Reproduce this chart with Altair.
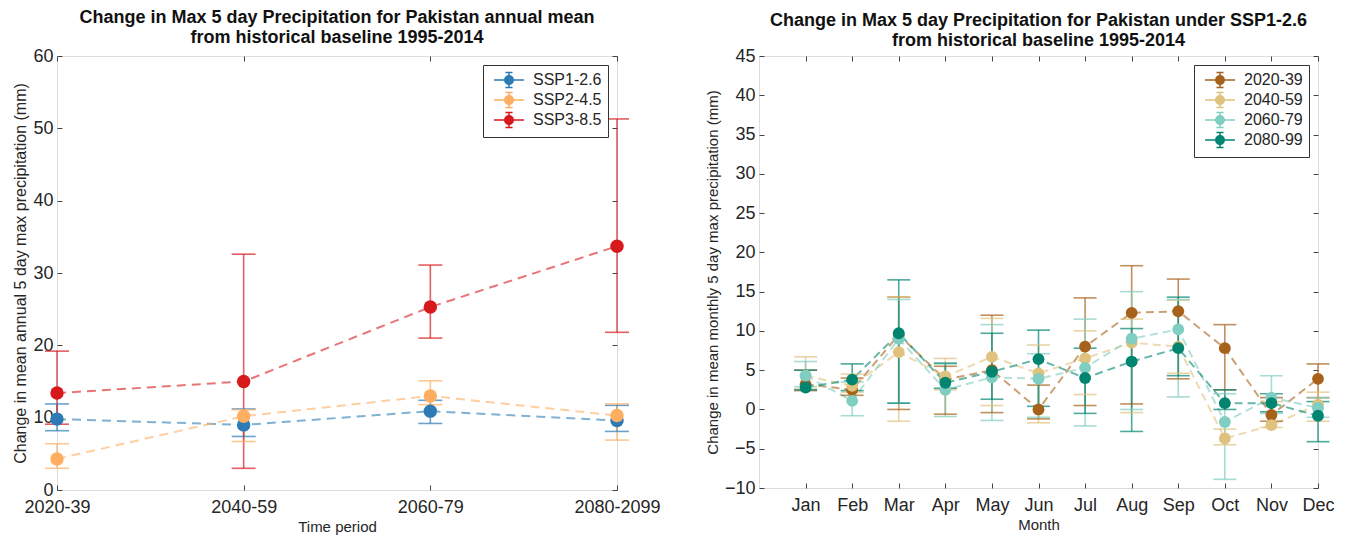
import math
import altair as alt
import pandas as pd

FONT = "Liberation Sans"

# ---------------- Left panel data (annual mean) ----------------
periods = ["2020-39", "2040-59", "2060-79", "2080-2099"]
scenarios = ["SSP1-2.6", "SSP2-4.5", "SSP3-8.5"]
scenario_colors = ["#2c7bb6", "#fdae61", "#d7191c"]

ssp126_mean = [9.8, 9.0, 10.9, 9.6]
ssp126_lo = [8.2, 7.4, 9.2, 8.1]
ssp126_hi = [11.9, 11.2, 12.4, 11.7]

ssp245_mean = [4.3, 10.2, 13.0, 10.3]
ssp245_lo = [3.0, 6.7, 11.8, 6.9]
ssp245_hi = [6.4, 11.1, 15.1, 11.9]

ssp585_mean = [13.4, 15.0, 25.3, 33.7]
ssp585_lo = [9.1, 3.0, 21.0, 21.8]
ssp585_hi = [19.2, 32.6, 31.1, 51.3]

# ---------------- Right panel data (monthly, SSP1-2.6) ----------------
months = ["Jan", "Feb", "Mar", "Apr", "May", "Jun",
          "Jul", "Aug", "Sep", "Oct", "Nov", "Dec"]
epochs = ["2020-39", "2040-59", "2060-79", "2080-99"]
epoch_colors = ["#a6611a", "#dfc27d", "#80cdc1", "#018571"]

p2020_mean = [3.2, 2.5, 9.5, 3.8, 5.0, 0.0, 8.0, 12.3, 12.5, 7.8, -0.7, 3.9]
p2020_lo = [2.4, 1.8, 0.0, -0.6, -0.4, -1.2, 0.5, 0.7, 3.9, 2.5, -1.5, 1.5]
p2020_hi = [5.0, 4.0, 14.3, 5.5, 12.0, 3.1, 14.2, 18.3, 16.6, 10.8, 1.5, 5.8]

p2040_mean = [4.3, 3.0, 7.3, 4.2, 6.7, 4.6, 6.5, 8.5, 8.0, -3.7, -2.0, 0.6]
p2040_lo = [2.6, 2.2, -1.5, 2.5, 0.5, -1.7, 1.9, -0.4, 4.6, -4.5, -2.3, -1.5]
p2040_hi = [6.7, 4.5, 14.3, 6.5, 11.6, 8.2, 10.0, 11.5, 13.9, -2.5, 1.0, 2.2]

p2060_mean = [4.3, 1.1, 9.0, 2.5, 4.1, 3.9, 5.3, 9.0, 10.2, -1.6, 1.5, 0.2]
p2060_lo = [2.9, -0.8, 0.8, -0.9, -1.4, -1.0, -2.1, 0.0, 1.6, -8.9, -0.5, -1.0]
p2060_hi = [6.1, 3.5, 14.0, 5.8, 10.8, 7.1, 11.5, 15.0, 14.0, 2.0, 4.3, 1.5]

p2080_mean = [2.8, 3.8, 9.7, 3.4, 4.8, 6.4, 4.0, 6.1, 7.8, 0.8, 0.8, -0.8]
p2080_lo = [2.5, 2.4, 0.8, 2.7, 1.3, 0.4, -0.5, -2.8, 4.3, 0.0, -0.3, -4.1]
p2080_hi = [5.0, 5.8, 16.5, 5.9, 9.7, 10.1, 7.8, 10.3, 14.3, 2.5, 2.0, 1.0]


def long_table(cats, names, means, los, his):
    rows = []
    for name, m, lo, hi in zip(names, means, los, his):
        for i, c in enumerate(cats):
            rows.append({"series": name, "idx": i + 1, "cat": c,
                         "mean": m[i], "lo": lo[i], "hi": hi[i]})
    return pd.DataFrame(rows)


left_df = long_table(periods, scenarios,
                     [ssp126_mean, ssp245_mean, ssp585_mean],
                     [ssp126_lo, ssp245_lo, ssp585_lo],
                     [ssp126_hi, ssp245_hi, ssp585_hi])
right_df = long_table(months, epochs,
                      [p2020_mean, p2040_mean, p2060_mean, p2080_mean],
                      [p2020_lo, p2040_lo, p2060_lo, p2080_lo],
                      [p2020_hi, p2040_hi, p2060_hi, p2080_hi])


def polygon(r, n=14):
    pts = ["%.3f,%.3f" % (r * math.cos(2 * math.pi * k / n),
                          r * math.sin(2 * math.pi * k / n)) for k in range(n)]
    return "M" + "L".join(pts) + "Z"


# legend glyph: line + error bar with caps + (stroke-filled) dot
LEGEND_PATH = ("M-1.9,0H1.9M0,-0.95V0.95M-0.45,-0.95H0.45M-0.45,0.95H0.45"
               + "".join(polygon(r) for r in [0.54, 0.42, 0.30, 0.18, 0.06]))


def panel(df, cats, names, colors, xdom, ydom, yticks, title_lines,
          xtitle, ytitle, w, h, point_size, cap_w, dash,
          title_offset, row_pad, ytitle_size):
    n = len(cats)
    label_expr = "[" + ",".join("'%s'" % c for c in cats) + "][datum.value - 1]"
    xs = alt.Scale(domain=xdom, nice=False, zero=False)
    ys = alt.Scale(domain=ydom, nice=False, zero=False)
    cs = alt.Scale(domain=names, range=colors)
    common_axis = dict(domain=False, grid=False, tickSize=5, offset=-5,
                       tickColor="#444", tickWidth=1,
                       labelFont=FONT, labelColor="#262626",
                       labelFontSize=18, titleFont=FONT,
                       titleFontWeight="normal", titleColor="#262626")
    x_axis = alt.Axis(orient="bottom", values=list(range(1, n + 1)),
                      labelExpr=label_expr, title=xtitle, labelFlush=False,
                      labelPadding=8, titlePadding=3, labelOverlap=False,
                      titleFontSize=15, **common_axis)
    y_axis = alt.Axis(orient="left", values=yticks, title=ytitle,
                      labelPadding=4, titlePadding=4, labelOverlap=False,
                      titleFontSize=ytitle_size, **common_axis)
    x_top = alt.Axis(orient="top", values=list(range(1, n + 1)), labels=False,
                     title=None, minExtent=0, maxExtent=0, **common_axis)
    y_right = alt.Axis(orient="right", values=yticks, labels=False,
                       title=None, minExtent=0, maxExtent=0, **common_axis)

    color_nolegend = alt.Color("series:N", scale=cs, legend=None)
    base = alt.Chart(df)

    leg = alt.Legend(title=None, orient="top-right", offset=9,
                     symbolType=LEGEND_PATH, symbolSize=250,
                     symbolStrokeWidth=1.5, symbolOpacity=1,
                     symbolOffset=11, labelOffset=15, labelFont=FONT,
                     labelFontSize=16, labelColor="#262626",
                     strokeColor="#333", fillColor="white", padding=6,
                     rowPadding=row_pad, cornerRadius=0)
    # invisible layer that carries the legend (must come first)
    legend_layer = base.mark_point(filled=False, opacity=0, size=1).encode(
        x=alt.X("idx:Q", scale=xs, axis=None),
        y=alt.Y("mean:Q", scale=ys, axis=None),
        color=alt.Color("series:N", scale=cs, legend=leg),
    )
    line = base.mark_line(strokeDash=dash, strokeWidth=2, opacity=0.6).encode(
        x=alt.X("idx:Q", scale=xs, axis=x_axis),
        y=alt.Y("mean:Q", scale=ys, axis=y_axis),
        color=color_nolegend,
        order="idx:Q",
    )
    bars = base.mark_rule(strokeWidth=1.6, opacity=0.7).encode(
        x=alt.X("idx:Q", scale=xs, axis=None),
        y=alt.Y("lo:Q", scale=ys, axis=None),
        y2="hi:Q",
        color=color_nolegend,
    )
    caps = base.transform_fold(["lo", "hi"], as_=["which", "capv"]).mark_tick(
        orient="horizontal", size=cap_w, thickness=1.6, opacity=0.7).encode(
        x=alt.X("idx:Q", scale=xs, axis=None),
        y=alt.Y("capv:Q", scale=ys, axis=None),
        color=color_nolegend,
    )
    pts = base.mark_circle(size=point_size, opacity=1).encode(
        x=alt.X("idx:Q", scale=xs, axis=x_top),
        y=alt.Y("mean:Q", scale=ys, axis=y_right),
        color=color_nolegend,
    )
    return alt.layer(legend_layer, line, bars, caps, pts).resolve_axis(
        x="independent", y="independent").properties(
        width=w, height=h,
        title=alt.TitleParams(text=title_lines, font=FONT, fontSize=18,
                              fontWeight="bold", color="#111",
                              anchor="middle", frame="group",
                              offset=title_offset, lineHeight=20),
    )


left = panel(left_df, periods, scenarios, scenario_colors, [1, 4], [0, 60],
             list(range(0, 61, 10)),
             ["Change in Max 5 day Precipitation for Pakistan annual mean",
              "from historical baseline 1995-2014"],
             "Time period",
             "Change in mean annual 5 day max precipitation (mm)",
             560, 434, 180, 24, [9, 6], 0, -4, 16)

right = panel(right_df, months, epochs, epoch_colors, [0, 12], [-10, 45],
              list(range(-10, 46, 5)),
              ["Change in Max 5 day Precipitation for Pakistan under SSP1-2.6",
               "from historical baseline 1995-2014"],
              "Month",
              "Change in mean monthly 5 day max precipitation (mm)",
              559, 432, 140, 23, [8, 5], -3, -2, 15)

chart = alt.hconcat(left, right, spacing=43).resolve_scale(
    color="independent", x="independent", y="independent").configure_view(
    stroke="#8a8a8a", strokeWidth=1).configure(
    padding={"left": 4, "top": 0, "right": 0, "bottom": 0},
    background="white")

chart.save("out.html", embed_options={"renderer": "svg", "actions": False})
